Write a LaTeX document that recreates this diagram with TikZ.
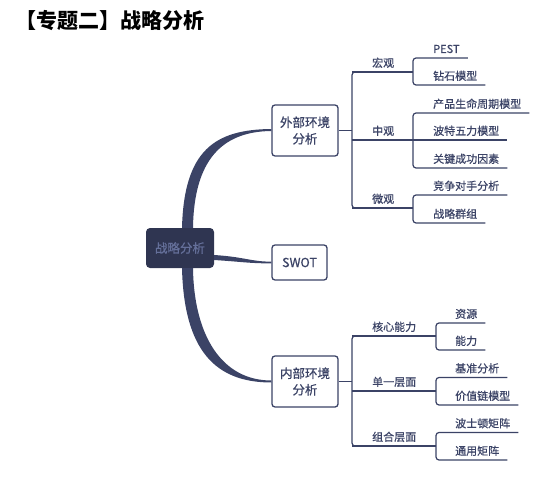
\documentclass[tikz,border=0pt]{standalone}
\usepackage{fontspec}
\newfontfamily\cjk[FakeBold=0.7]{Noto Sans CJK SC}
\newfontfamily\cjktitle{Noto Sans CJK SC}
\usepackage{tikz}
\usetikzlibrary{positioning,calc}
\definecolor{ink}{HTML}{3B4366}
\definecolor{rootfill}{HTML}{2F3551}
\definecolor{roottext}{HTML}{65709A}
\tikzset{
    hub/.style={
           rectangle,
           rounded corners=3pt,
           draw=ink, line width=1.3pt,
           fill=white,
           text=ink,
           font=\cjk\fontsize{12.5}{16.5}\selectfont,
           align=center,
           minimum width=66pt,
           minimum height=51pt,
           inner sep=0pt,
           },
    rootbox/.style={
           rectangle,
           rounded corners=4pt,
           fill=rootfill,
           text=roottext,
           font=\cjk\fontsize{12.5}{15}\selectfont,
           minimum width=68pt,
           minimum height=40pt,
           inner sep=0pt,
           },
    item/.style={
           anchor=base west,
           inner sep=0pt,
           text=ink,
           font=\cjk\fontsize{11}{13}\selectfont,
           },
    link/.style={draw=ink, line width=1.2pt, rounded corners=3pt},
}

\begin{document}
\begin{tikzpicture}[x=1pt,y=-1pt]
 \useasboundingbox (0,0) rectangle (554,484);

 \node[anchor=west, font=\cjktitle\bfseries\fontsize{21}{24}\selectfont] (title) at (12,21)
 {【专题二】战略分析};

 % main topics
 \node[rootbox] (root) at (180,248) {战略分析};
 \node[hub] (out) at (305,130.5) {外部环境\\分析};
 \node[hub, minimum width=55pt, minimum height=35pt] (swot) at (299.5,262.5) {SWOT};
 \node[hub] (in) at (305,381.5) {内部环境\\分析};

 % tapered branches
 \fill[ink] ($(root.north)+(2,0)$) .. controls (184,150) and (215,129.5) .. ($(out.west)+(0,-1.5)$)
   -- ($(out.west)+(0,0.5)$) .. controls (222,131.5) and (194,160) .. ($(root.north)+(13,0)$) -- cycle;
 \fill[ink] ($(root.south)+(2,0)$) .. controls (184,350) and (215,382.5) .. ($(in.west)+(0,1)$)
   -- ($(in.west)+(0,-1)$) .. controls (222,380.5) and (194,336) .. ($(root.south)+(13,0)$) -- cycle;
 \fill[ink] ($(root.east)+(0,7)$) .. controls (245,257) and (250,261.5) .. ($(swot.west)+(0,-0.8)$)
   -- ($(swot.west)+(0,0.8)$) .. controls (250,263.5) and (245,262) .. ($(root.east)+(0,12)$) -- cycle;

 % external analysis
 \coordinate (o1) at (352,72);
 \coordinate (o2) at (352,140);
 \coordinate (o3) at (352,208);
 \coordinate (m1a) at (413,58);
 \coordinate (m1b) at (413,85);
 \coordinate (m2a) at (413,113);
 \coordinate (m2b) at (413,140);
 \coordinate (m2c) at (413,168);
 \coordinate (m3a) at (413,195);
 \coordinate (m3b) at (413,223);

 \node[item] (macro) at ($(o1)+(20,-5)$) {宏观};
 \node[item] (meso) at ($(o2)+(20,-5)$) {中观};
 \node[item] (micro) at ($(o3)+(20,-5)$) {微观};

 \node[item] (pest) at ($(m1a)+(20,-5)$) {PEST};
 \node[item] (diamond) at ($(m1b)+(20,-5)$) {钻石模型};
 \node[item] (plc) at ($(m2a)+(20,-5)$) {产品生命周期模型};
 \node[item] (porter) at ($(m2b)+(20,-5)$) {波特五力模型};
 \node[item] (ksf) at ($(m2c)+(20,-5)$) {关键成功因素};
 \node[item] (rival) at ($(m3a)+(20,-5)$) {竞争对手分析};
 \node[item] (group) at ($(m3b)+(20,-5)$) {战略群组};

 \draw[link] (out.east) -- (out.east -| o1);
 \draw[link] ($(o1)!0.5!(m1a |- o1)$) -- (o1) -- (o3) -- ($(o3)!0.5!(m3a |- o3)$);
 \draw[link] (o1) -- (m1a |- o1);
 \draw[link] (o3) -- (m3a |- o3);
 \draw[link] (o2) -- ($(porter.east |- m2b)+(8,0)$);
 \draw[link] ($(pest.east |- m1a)+(8,0)$) -- (m1a) -- (m1b) -- ($(diamond.east |- m1b)+(8,0)$);
 \draw[link] ($(plc.east |- m2a)+(8,0)$) -- (m2a) -- (m2c) -- ($(ksf.east |- m2c)+(8,0)$);
 \draw[link] ($(rival.east |- m3a)+(8,0)$) -- (m3a) -- (m3b) -- ($(group.east |- m3b)+(8,0)$);

 % internal analysis
 \coordinate (p1) at (352,336);
 \coordinate (p2) at (352,391);
 \coordinate (p3) at (352,446);
 \coordinate (n1a) at (436,323);
 \coordinate (n1b) at (436,350);
 \coordinate (n2a) at (436,377.5);
 \coordinate (n2b) at (436,405);
 \coordinate (n3a) at (436,432.5);
 \coordinate (n3b) at (436,460);

 \node[item] (core) at ($(p1)+(20,-5)$) {核心能力};
 \node[item] (single) at ($(p2)+(20,-5)$) {单一层面};
 \node[item] (combo) at ($(p3)+(20,-5)$) {组合层面};

 \node[item] (res) at ($(n1a)+(19,-5)$) {资源};
 \node[item] (abil) at ($(n1b)+(19,-5)$) {能力};
 \node[item] (bench) at ($(n2a)+(19,-5)$) {基准分析};
 \node[item] (chain) at ($(n2b)+(19,-5)$) {价值链模型};
 \node[item] (bcg) at ($(n3a)+(19,-5)$) {波士顿矩阵};
 \node[item] (ge) at ($(n3b)+(19,-5)$) {通用矩阵};

 \draw[link] (in.east) -- (in.east -| p1);
 \draw[link] ($(p1)!0.5!(n1a |- p1)$) -- (p1) -- (p3) -- ($(p3)!0.5!(n3a |- p3)$);
 \draw[link] (p1) -- (n1a |- p1);
 \draw[link] (p2) -- (n2a |- p2);
 \draw[link] (p3) -- (n3a |- p3);
 \draw[link] ($(res.east |- n1a)+(8,0)$) -- (n1a) -- (n1b) -- ($(abil.east |- n1b)+(8,0)$);
 \draw[link] ($(bench.east |- n2a)+(8,0)$) -- (n2a) -- (n2b) -- ($(chain.east |- n2b)+(8,0)$);
 \draw[link] ($(bcg.east |- n3a)+(8,0)$) -- (n3a) -- (n3b) -- ($(ge.east |- n3b)+(8,0)$);

\end{tikzpicture}
\end{document}
